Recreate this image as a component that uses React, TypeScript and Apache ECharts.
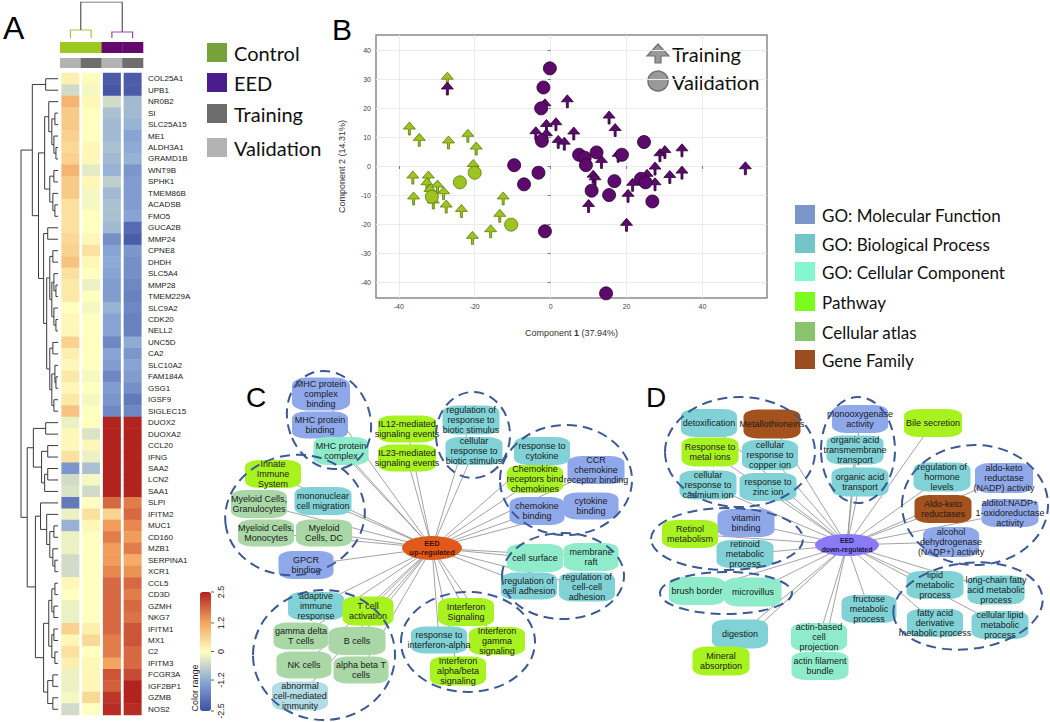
import React, { useEffect, useRef } from 'react';
import * as echarts from 'echarts';

// ---------------- Panel A: heatmap data ----------------
const GENES = [
  'COL25A1', 'UPB1', 'NR0B2', 'SI', 'SLC25A15', 'ME1', 'ALDH3A1', 'GRAMD1B', 'WNT9B', 'SPHK1',
  'TMEM86B', 'ACADSB', 'FMO5', 'GUCA2B', 'MMP24', 'CPNE8', 'DHDH', 'SLC5A4', 'MMP28', 'TMEM229A',
  'SLC9A2', 'CDK20', 'NELL2', 'UNC5D', 'CA2', 'SLC10A2', 'FAM184A', 'GSG1', 'IGSF9', 'SIGLEC15',
  'DUOX2', 'DUOXA2', 'CCL20', 'IFNG', 'SAA2', 'LCN2', 'SAA1', 'SLPI', 'IFITM2', 'MUC1',
  'CD160', 'MZB1', 'SERPINA1', 'XCR1', 'CCL5', 'CD3D', 'GZMH', 'NKG7', 'IFITM1', 'MX1',
  'C2', 'IFITM3', 'FCGR3A', 'IGF2BP1', 'GZMB', 'NOS2',
];
const CTRL_VALIDATION = [
  0.2, -0.5, 1.0, 0.7, 0.7, 0.6, 0.5, 0.6, 1.0, 0.7, 0.7, 0.4, 0.4, 0.4, 0.5, 0.6, 0.8, 0.4, 0.3, 0.3,
  0.0, 0.1, 0.1, 0.6, 0.2, 0.1, 0.3, 0.1, 0.3, 0.8,
  -0.2, 0.1, 0.1, 0.4, -1.5, -0.5, -0.4, -1.9, -0.2, -1.1, -0.2, -0.2, -0.5, -0.5, 0.1, 0.0, -0.2, -0.2,
  0.6, 0.1, 0.4, 0.2, -0.2, -0.2, -0.1, -0.5,
];
const CTRL_TRAINING = [
  0.05, -0.1, 0.1, 0, 0, 0, 0.1, 0.1, -0.3, 0.1, -0.1, -0.1, 0, 0, 0.1, 0.4, 0.1, 0, -0.2, 0,
  -0.1, 0, 0, 0, 0, 0, -0.1, 0, -0.1, 0,
  0, -0.4, 0.1, -0.2, -0.9, -0.1, -0.5, 0, 0.4, 0.1, 0, 0, 0, 0, 0, 0, 0, 0, 0.2, 0.5, 0, 0.1,
  0.1, 0.1, 0.5, 0,
];
const EED_VALIDATION = [
  -2.3, -2.4, -0.5, -0.9, -1.0, -1.0, -0.9, -1.0, -1.1, -0.7, -1.0, -0.9, -0.9, -1.0, -1.6, -1.3, -1.2,
  -1.3, -1.4, -1.4, -1.1, -1.3, -1.3, -1.7, -1.3, -1.4, -1.7, -1.4, -1.5, -1.7,
  2.5, 2.5, 2.5, 2.5, 2.5, 2.5, 2.5, 1.8, 0.6, 1.3, 1.6, 1.3, 1.3, 1.5, 1.8, 1.8, 1.8, 1.8, 1.8, 1.6,
  1.6, 1.2, 2.0, 1.9, 2.3, 2.4,
];
const EED_TRAINING = [
  -2.3, -2.3, -1.0, -1.0, -1.1, -1.3, -1.2, -1.1, -1.5, -1.4, -1.4, -1.4, -1.3, -2.1, -2.3, -1.5, -1.6,
  -1.6, -1.7, -1.8, -1.7, -1.8, -1.8, -1.2, -1.5, -1.3, -1.4, -1.6, -1.9, -1.7,
  2.5, 2.5, 2.5, 2.5, 2.5, 2.5, 2.5, 1.6, 1.8, 1.5, 1.3, 1.6, 1.1, 1.4, 1.8, 1.6, 1.8, 1.7, 2.0, 2.0,
  1.8, 1.8, 2.1, 2.5, 2.5, 2.4,
];
const HEAT_COLUMNS = [CTRL_VALIDATION, CTRL_TRAINING, EED_VALIDATION, EED_TRAINING];
const COLUMN_GROUP = ['Control', 'Control', 'EED', 'EED'];
const COLUMN_SET = ['Validation', 'Training', 'Validation', 'Training'];
const COLOR_TICKS = [2.5, 1.2, 0, -1.2, -2.5];
const COLOR_TICK_LABELS = ['2.5', '1.2', '0', '-1.2', '-2.5'];

// dendrograms: [height, left, right], leaves are row / column indices
type Tree = number | [number, Tree, Tree];
const ROW_TREE: Tree = [36,
  [25, [12, 0, 1],
    [19,
      [13, [9, 2, [6, [3, 3, 4], [4, 5, [2, 6, 7]]]], [8, [4, 8, 9], [5, 10, [3, 11, 12]]]],
      [14, [10, 13, 14],
        [11, [8, [5, 15, 16], [6, [4, 17, [2, 18, 19]], [4, 20, [2, 21, 22]]]],
          [8, [5, 23, 24], [6, [3, 25, [2, 26, 27]], [4, 28, 29]]]]]]],
  [30, [24, [12, 30, 31], [16, [10, 32, 33], [13, [10, 34, 35], 36]]],
    [22, [17, 37, [11, 38, [8, [4, 39, 40], [5, 41, [3, 42, 43]]]]],
      [14, [9, [6, [3, 44, 45], [4, 46, 47]], [6, [4, 48, 49], [3, 50, 51]]], [10, [5, 52, 53], [5, 54, 55]]]]],
];
const COL_TREE: Tree = [36, [8, 0, 1], [6, 2, 3]];

// ---------------- Panel B: PLS-DA scores ----------------
const CTRL_TRAIN_PTS = [
  [-27.2, 31.0], [-37.2, 13.8], [-34.6, 9.9], [-26.9, 9.0], [-21.8, 11.3], [-19.6, 6.9], [-20.4, 0.9],
  [-36.3, -3.1], [-32.2, -3.1], [-32.6, -5.4], [-29.8, -6.2], [-31.8, -7.7], [-28.2, -8.5], [-36.1, -10.3],
  [-30.9, -11.7], [-27.5, -13.1], [-23.5, -14.6], [-12.5, -10.3], [-13.4, -16.3], [-15.8, -21.6], [-20.6, -23.9],
];
const CTRL_VAL_PTS = [[-23.9, -5.6], [-20.0, -2.3], [-31.3, -10.6], [-10.4, -20.2]];
const EED_TRAIN_PTS = [
  [-27.2, 27.6], [-1.5, 21.8], [4.4, 23.2], [-1.1, 14.7], [1.4, 15.3], [-3.9, 12.2], [-1.1, 11.5],
  [2.0, 9.2], [3.6, 8.6], [6.1, 12.1], [15.4, 17.6], [17.0, 13.3], [13.4, 2.3], [11.2, -2.8], [11.7, -3.7],
  [10.0, -12.9], [20.4, -9.4], [20.0, -19.4], [21.6, -5.6], [25.4, -2.5], [27.5, 0.0], [27.5, -5.4],
  [28.8, 4.6], [30.1, 5.7], [31.4, -2.9], [34.6, 6.3], [34.6, -1.4], [51.3, 0.1], [17.8, 4.4],
];
const EED_VAL_PTS = [
  [-0.2, 33.7], [-1.9, 27.1], [-2.5, 19.9], [-2.3, 8.7], [-9.6, 0.3], [-3.2, -2.3], [-7.0, -6.3],
  [-1.5, -22.5], [7.5, 3.9], [9.0, 2.9], [9.3, 0.3], [12.1, 4.7], [18.8, 3.9], [24.6, 8.3], [16.8, -5.2],
  [10.8, -8.5], [15.4, -10.0], [23.8, -4.4], [25.0, -5.6], [26.8, -12.2], [14.6, -43.9],
];
const X_TICKS = [-40, -20, 0, 20, 40];
const Y_TICKS = [-40, -30, -20, -10, 0, 10, 20, 30, 40];

// ---------------- Panels C / D: enrichment networks ----------------
const CAT_LEGEND = [
  ['MF', 'GO: Molecular Function'], ['BP', 'GO: Biological Process'], ['CC', 'GO: Cellular Component'],
  ['PW', 'Pathway'], ['CA', 'Cellular atlas'], ['GF', 'Gene Family'],
];
const NET_C_NODES = [
  ['MHC protein\ncomplex\nbinding', 'MF'], ['MHC protein\nbinding', 'MF'], ['MHC protein\ncomplex', 'CC'],
  ['IL12-mediated\nsignaling events', 'PW'], ['IL23-mediated\nsignaling events', 'PW'],
  ['regulation of\nresponse to\nbiotic stimulus', 'BP'], ['cellular\nresponse to\nbiotic stimulus', 'BP'],
  ['response to\ncytokine', 'BP'], ['CCR\nchemokine\nreceptor binding', 'MF'],
  ['Chemokine\nreceptors bind\nchemokines', 'PW'], ['chemokine\nbinding', 'MF'], ['cytokine\nbinding', 'MF'],
  ['Innate\nImmune\nSystem', 'PW'], ['Myeloid Cells,\nGranulocytes', 'CA'], ['mononuclear\ncell migration', 'BP'],
  ['Myeloid Cells,\nMonocytes', 'CA'], ['Myeloid\nCells, DC', 'CA'], ['GPCR\nbinding', 'MF'],
  ['adaptive\nimmune\nresponse', 'BP'], ['T cell\nactivation', 'PW'], ['gamma delta\nT cells', 'CA'],
  ['B cells', 'CA'], ['NK cells', 'CA'], ['alpha beta T\ncells', 'CA'], ['abnormal\ncell-mediated\nimmunity', 'OT'],
  ['cell surface', 'CC'], ['membrane\nraft', 'CC'], ['regulation of\ncell adhesion', 'BP'],
  ['regulation of\ncell-cell\nadhesion', 'BP'], ['Interferon\nSignaling', 'PW'], ['response to\ninterferon-alpha', 'BP'],
  ['Interferon\ngamma\nsignaling', 'PW'], ['Interferon\nalpha/beta\nsignaling', 'PW'],
];
// node layout of panel C: centre x, centre y, box width, box height (page pixels)
const NET_C_LAYOUT = [
  [321, 394, 58, 33], [320, 425, 56, 27], [341, 451, 55, 28], [407, 429, 58, 27], [407, 458, 58, 27],
  [471, 420, 57, 29], [474, 451, 57, 28], [542, 451, 56, 28], [596, 470, 57, 28], [535, 479, 56, 28],
  [537, 511, 55, 28], [591, 506, 55, 27], [273, 474, 56, 28], [259, 504, 56, 28], [323, 501, 57, 28],
  [266, 533, 56, 27], [324, 533, 56, 27], [306, 565, 55, 28], [316, 606, 56, 28], [368, 611, 51, 29],
  [301, 636, 55, 27], [357, 641, 57, 28], [304, 665, 55, 27], [361, 670, 55, 27], [300, 696, 56, 29],
  [535, 558, 56, 28], [591, 557, 55, 28], [529, 586, 56, 27], [587, 587, 56, 29], [466, 612, 56, 28],
  [439, 640, 56, 27], [497, 641, 56, 28], [458, 671, 56, 29],
];
const HUB_C = 'EED\nup-regulated';
const HUB_C_LAYOUT = [432, 548, 60, 24];

const NET_D_NODES = [
  ['detoxification', 'BP'], ['Metallothioneins', 'GF'], ['Response to\nmetal ions', 'PW'],
  ['cellular\nresponse to\ncopper ion', 'BP'], ['cellular\nresponse to\ncadmium ion', 'BP'],
  ['response to\nzinc ion', 'BP'], ['monooxygenase\nactivity', 'MF'], ['organic acid\ntransmembrane\ntransport', 'BP'],
  ['organic acid\ntransport', 'BP'], ['Bile secretion', 'PW'], ['regulation of\nhormone\nlevels', 'BP'],
  ['aldo-keto\nreductase\n(NADP) activity', 'MF'], ['Aldo-keto\nreductases', 'GF'],
  ['alditol:NADP+\n1-oxidoreductase\nactivity', 'MF'], ['alcohol\ndehydrogenase\n(NADP+) activity', 'MF'],
  ['vitamin\nbinding', 'MF'], ['Retinol\nmetabolism', 'PW'], ['retinoid\nmetabolic\nprocess', 'BP'],
  ['brush border', 'CC'], ['microvillus', 'CC'], ['digestion', 'BP'], ['Mineral\nabsorption', 'PW'],
  ['actin-based\ncell\nprojection', 'CC'], ['actin filament\nbundle', 'CC'], ['fructose\nmetabolic\nprocess', 'BP'],
  ['lipid\nmetabolic\nprocess', 'BP'], ['long-chain fatty\nacid metabolic\nprocess', 'BP'],
  ['fatty acid\nderivative\nmetabolic process', 'BP'], ['cellular lipid\nmetabolic\nprocess', 'BP'],
];
const NET_D_LAYOUT = [
  [709, 423, 56, 28], [772, 424, 57, 29], [710, 452, 57, 29], [770, 455, 56, 30], [708, 485, 57, 29],
  [768, 487, 57, 28], [860, 419, 56, 28], [855, 450, 57, 29], [860, 482, 57, 29], [933, 423, 58, 28],
  [942, 477, 57, 29], [1004, 478, 58, 30], [943, 509, 57, 28], [1010, 513, 57, 28], [951, 542, 56, 30],
  [746, 523, 57, 28], [690, 534, 56, 28], [745, 554, 57, 28], [697, 591, 56, 28], [753, 592, 57, 29],
  [740, 634, 56, 29], [721, 661, 57, 29], [819, 637, 56, 28], [820, 666, 57, 28], [869, 609, 55, 28],
  [935, 585, 57, 28], [996, 590, 57, 29], [935, 623, 56, 28], [1000, 625, 57, 28],
];
const HUB_D = 'EED\ndown-regulated';
const HUB_D_LAYOUT = [847, 545, 64, 22];

// dashed cluster outlines: cx, cy, rx, ry, rotation
const CLUSTERS = [
  [329, 420, 41, 50, 0.35], [473, 435, 37, 43, 0], [566, 480, 66, 55, 0], [295, 515, 70, 60, 0.15],
  [324, 655, 71, 65, 0], [468, 642, 67, 50, 0], [563, 576, 61, 43, 0],
  [740, 452, 75, 55, 0], [858, 450, 37, 53, 0], [727, 539, 76, 31, 0], [726, 593, 66, 21, 0],
  [975, 505, 73, 60, 0], [968, 606, 75, 43, 0.12],
];

// ---------------- styles ----------------
const HEAT_COLORS = ['#3f4fa1', '#8aa8d6', '#ffffbf', '#f3a15c', '#b2221f'];
const GROUP_BAR = { Control: '#9cc920', EED: '#650a6d' };
const SET_BAR = { Validation: '#b3b3b3', Training: '#6e6e6e' };
const LEGEND_A = [['Control', '#76a23c'], ['EED', '#4b1c8c'], ['Training', '#6c6c6c'], ['Validation', '#b3b3b3']];
const CAT_NODE = { MF: '#8fa8ea', BP: '#80d2d6', CC: '#8eeccb', PW: '#a8f220', CA: '#a9d7a6', GF: '#a3521d', OT: '#b3dde6' };
const CAT_KEY = { MF: '#7b96c8', BP: '#72c6c9', CC: '#85f7d0', PW: '#7cfc1c', CA: '#88c46a', GF: '#9a4d1e' };
const ARROW = 'path://M6,0 L12,7 L7,7 L7,13 L5,13 L5,7 L0,7 Z';
const ELLIPSE = 'path://M0,50 A50,50 0 1 0 100,50 A50,50 0 1 0 0,50 Z';

function layoutTree(node: Tree, segs: any[], tag: number): { pos: number; h: number } {
  if (typeof node === 'number') return { pos: node, h: 0 };
  const [h, l, r] = node;
  const root = tag < 0;
  const L = layoutTree(l, segs, root ? 0 : tag);
  const R = layoutTree(r, segs, root ? 1 : tag);
  segs.push({ pts: [[L.pos, L.h], [L.pos, h], [R.pos, h], [R.pos, R.h]], tag });
  return { pos: (L.pos + R.pos) / 2, h };
}

function buildNet(nodes: any[], layout: number[][], hub: string, hubLayout: number[], hubColor: string, hubText: string, hubFont: number) {
  const data: any[] = nodes.map((n, i) => ({
    name: n[0],
    value: [layout[i][0], layout[i][1]],
    symbol: 'roundRect',
    symbolSize: [layout[i][2], layout[i][3]],
    itemStyle: { color: CAT_NODE[n[1]] },
  }));
  data.push({
    name: hub,
    value: [hubLayout[0], hubLayout[1]],
    symbol: ELLIPSE,
    symbolSize: [hubLayout[2], hubLayout[3]],
    itemStyle: { color: hubColor },
    label: { fontSize: hubFont, fontWeight: 'bold', lineHeight: 9, color: hubText },
  });
  const links = nodes.map((n) => ({ source: hub, target: n[0] }));
  return {
    type: 'graph', coordinateSystem: 'cartesian2d', xAxisIndex: 6, yAxisIndex: 6, layout: 'none',
    silent: true, data, links, z: 3,
    label: { show: true, position: 'inside', fontSize: 9, lineHeight: 10, color: '#1a1a1a', fontFamily: 'Liberation Sans' },
    lineStyle: { color: '#8c8c8c', width: 0.8, opacity: 1, curveness: 0 },
    emphasis: { disabled: true },
  };
}

function buildOption() {
  const rowSegs: any[] = [];
  layoutTree(ROW_TREE, rowSegs, -1);
  const colSegs: any[] = [];
  layoutTree(COL_TREE, colSegs, -1);
  const colTagColor = { '-1': '#555555', '0': '#a3c940', '1': '#9b4aa3' };

  const heatData: any[] = [];
  HEAT_COLUMNS.forEach((col, c) => col.forEach((v, r) => heatData.push([c, r, v])));

  const scatterBase = (name: string, pts: number[][], fill: string, stroke: string, train: boolean) => ({
    name, type: 'scatter', xAxisIndex: 5, yAxisIndex: 5, data: pts, silent: true,
    symbol: train ? ARROW : 'circle', symbolSize: train ? [12, 13] : 13,
    symbolOffset: train ? [0, 2.5] : [0, 0],
    itemStyle: { color: fill, borderColor: stroke, borderWidth: 0.8, opacity: 1 },
  });

  const graphic: any[] = [];
  const letter = (t: string, x: number, y: number, s: number) =>
    graphic.push({ type: 'text', x, y, style: { text: t, fontSize: s, fontFamily: 'Liberation Sans', fill: '#000', verticalAlign: 'middle' } });
  letter('A', 3, 28, 32);
  letter('B', 332, 29, 30);
  letter('C', 246, 397, 28);
  letter('D', 646, 397, 28);

  const legendAY = [43, 73, 104, 138];
  LEGEND_A.forEach(([t, c], i) => {
    graphic.push({ type: 'rect', shape: { x: 207, y: legendAY[i], width: 20, height: 19 }, style: { fill: c } });
    graphic.push({ type: 'text', x: 234, y: legendAY[i] + 10, style: { text: t, fontSize: 20, fontFamily: 'Lato', fill: '#111', verticalAlign: 'middle' } });
  });
  const legendGY = [205, 234, 262, 292, 322, 350];
  CAT_LEGEND.forEach(([k, t], i) => {
    graphic.push({ type: 'rect', shape: { x: 795, y: legendGY[i], width: 20, height: 19 }, style: { fill: CAT_KEY[k] } });
    graphic.push({ type: 'text', x: 822, y: legendGY[i] + 10, style: { text: t, fontSize: 17, fontFamily: 'Lato', fill: '#111', verticalAlign: 'middle' } });
  });
  // panel B legend
  graphic.push({ type: 'polygon', shape: { points: [[658, 44], [669, 56], [661, 56], [661, 63], [655, 63], [655, 56], [647, 56]] }, style: { fill: '#9a9a9a', stroke: '#707070', lineWidth: 1.2 } });
  graphic.push({ type: 'circle', shape: { cx: 658, cy: 81, r: 10 }, style: { fill: '#9a9a9a', stroke: '#707070', lineWidth: 1.5 } });
  graphic.push({ type: 'text', x: 672, y: 54, style: { text: 'Training', fontSize: 20, fontFamily: 'Lato', fill: '#111', verticalAlign: 'middle' } });
  graphic.push({ type: 'text', x: 672, y: 82, style: { text: 'Validation', fontSize: 20, fontFamily: 'Lato', fill: '#111', verticalAlign: 'middle' } });
  // colour bar ticks
  const barTop = 592, barH = 119;
  COLOR_TICKS.forEach((v, i) => {
    const y = barTop + ((2.5 - v) / 5) * barH;
    graphic.push({ type: 'line', shape: { x1: 211, y1: y, x2: 214, y2: y }, style: { stroke: '#333', lineWidth: 0.8 } });
    graphic.push({ type: 'text', x: 221, y, rotation: Math.PI / 2, style: { text: COLOR_TICK_LABELS[i], fontSize: 9, fontFamily: 'Liberation Sans', fill: '#222', align: 'center', verticalAlign: 'middle' } });
  });
  graphic.push({ type: 'text', x: 195, y: 688, rotation: Math.PI / 2, style: { text: 'Color range', fontSize: 9, fontFamily: 'Liberation Sans', fill: '#222', align: 'center', verticalAlign: 'middle' } });
  // dashed cluster outlines
  CLUSTERS.forEach(([cx, cy, rx, ry, rot]) => {
    graphic.push({ type: 'ellipse', x: cx, y: cy, rotation: rot, z: 100, shape: { cx: 0, cy: 0, rx, ry }, style: { fill: 'none', stroke: '#3c5996', lineWidth: 2, lineDash: [10, 6] } });
  });

  return {
    animation: false,
    backgroundColor: '#ffffff',
    textStyle: { fontFamily: 'Liberation Sans' },
    grid: [
      { left: 60, top: 73, width: 83, height: 642 },
      { left: 20, top: 73, width: 38, height: 642 },
      { left: 60, top: 2, width: 83, height: 36 },
      { left: 60, top: 42, width: 83, height: 11 },
      { left: 60, top: 58, width: 83, height: 10 },
      { left: 376, top: 35, width: 391, height: 263, show: true, borderColor: '#8a8a8a', borderWidth: 1.5 },
      { left: 0, top: 0, width: 1050, height: 722 },
    ],
    xAxis: [
      { gridIndex: 0, type: 'category', data: ['c1', 'c2', 'c3', 'c4'], show: false },
      { gridIndex: 1, type: 'value', min: 0, max: 37, inverse: true, show: false },
      { gridIndex: 2, type: 'value', min: -0.5, max: 3.5, show: false },
      { gridIndex: 3, type: 'category', data: ['c1', 'c2', 'c3', 'c4'], show: false },
      { gridIndex: 4, type: 'category', data: ['c1', 'c2', 'c3', 'c4'], show: false },
      {
        gridIndex: 5, type: 'value', min: -46, max: 57, minInterval: 20, maxInterval: 20,
        name: 'Component {b|1} (37.94%)', nameLocation: 'middle', nameGap: 30,
        nameTextStyle: { fontSize: 9, color: '#333', rich: { b: { fontSize: 9, fontWeight: 'bold', color: '#333' } } },
        axisLine: { show: false },
        axisTick: { show: true, length: 3, lineStyle: { color: '#777' }, customValues: X_TICKS },
        axisLabel: { fontSize: 7, color: '#444', margin: 5, customValues: X_TICKS },
        splitLine: { show: true, lineStyle: { color: '#ebebeb', width: 1 } },
      },
      { gridIndex: 6, type: 'value', min: 0, max: 1050, show: false },
    ],
    yAxis: [
      {
        gridIndex: 0, type: 'category', data: GENES, inverse: true, position: 'right',
        axisLine: { show: false }, axisTick: { show: false },
        axisLabel: { interval: 0, fontSize: 8, color: '#1a1a1a', margin: 5, fontFamily: 'Liberation Sans' },
      },
      { gridIndex: 1, type: 'value', min: -0.5, max: 55.5, inverse: true, show: false },
      { gridIndex: 2, type: 'value', min: 0, max: 36, show: false },
      { gridIndex: 3, type: 'category', data: ['g'], show: false },
      { gridIndex: 4, type: 'category', data: ['s'], show: false },
      {
        gridIndex: 5, type: 'value', min: -45.5, max: 45.2, minInterval: 10, maxInterval: 10,
        name: 'Component 2 (14.31%)', nameLocation: 'middle', nameGap: 30, nameRotate: 90,
        nameTextStyle: { fontSize: 9, color: '#333' },
        axisLine: { show: false },
        axisTick: { show: true, length: 3, lineStyle: { color: '#777' }, customValues: Y_TICKS },
        axisLabel: { fontSize: 7, color: '#444', margin: 5, customValues: Y_TICKS },
        splitLine: { show: true, lineStyle: { color: '#ebebeb', width: 1 } },
      },
      { gridIndex: 6, type: 'value', min: 0, max: 722, inverse: true, show: false },
    ],
    visualMap: {
      type: 'continuous', min: -2.5, max: 2.5, dimension: 2, seriesIndex: 0, orient: 'vertical',
      left: 200, top: barTop, itemWidth: 11, itemHeight: barH, calculable: false, padding: 0,
      hoverLink: false, inRange: { color: HEAT_COLORS },
    },
    series: [
      {
        type: 'custom', xAxisIndex: 0, yAxisIndex: 0, data: heatData, encode: { x: 0, y: 1 }, silent: true,
        renderItem: (params: any, api: any) => {
          const p = api.coord([api.value(0), api.value(1)]);
          const s = api.size([1, 1]);
          const gap = 2.8;
          return {
            type: 'rect',
            shape: { x: p[0] - s[0] / 2 + gap / 2, y: p[1] - s[1] / 2 - 0.25, width: s[0] - gap, height: s[1] + 0.5 },
            style: { fill: api.visual('color') },
          };
        },
      },
      {
        type: 'lines', coordinateSystem: 'cartesian2d', xAxisIndex: 1, yAxisIndex: 1, polyline: true, silent: true,
        data: rowSegs.map((s) => ({ coords: s.pts.map((p: number[]) => [p[1], p[0]]) })),
        lineStyle: { color: '#3a3a3a', width: 1, opacity: 1 },
      },
      {
        type: 'lines', coordinateSystem: 'cartesian2d', xAxisIndex: 2, yAxisIndex: 2, polyline: true, silent: true,
        data: colSegs.map((s) => ({ coords: s.pts, lineStyle: { color: colTagColor[String(s.tag)] } })),
        lineStyle: { width: 1.2, opacity: 1 },
      },
      {
        type: 'custom', xAxisIndex: 3, yAxisIndex: 3, silent: true, data: COLUMN_GROUP.map((g, i) => [i, 0]),
        renderItem: (params: any, api: any) => {
          const p = api.coord([api.value(0), 0]);
          const s = api.size([1, 1]);
          return { type: 'rect', shape: { x: p[0] - s[0] / 2, y: p[1] - s[1] / 2, width: s[0] + 0.3, height: s[1] }, style: { fill: GROUP_BAR[COLUMN_GROUP[params.dataIndex]] } };
        },
      },
      {
        type: 'custom', xAxisIndex: 4, yAxisIndex: 4, silent: true, data: COLUMN_SET.map((g, i) => [i, 0]),
        renderItem: (params: any, api: any) => {
          const p = api.coord([api.value(0), 0]);
          const s = api.size([1, 1]);
          return { type: 'rect', shape: { x: p[0] - s[0] / 2, y: p[1] - s[1] / 2, width: s[0] + 0.3, height: s[1] }, style: { fill: SET_BAR[COLUMN_SET[params.dataIndex]] } };
        },
      },
      scatterBase('Control training', CTRL_TRAIN_PTS, '#9dc41f', '#5a7a0c', true),
      scatterBase('EED training', EED_TRAIN_PTS, '#5c0a6c', '#2b0035', true),
      scatterBase('Control validation', CTRL_VAL_PTS, '#9dc41f', '#5a7a0c', false),
      scatterBase('EED validation', EED_VAL_PTS, '#5c0a6c', '#2b0035', false),
      buildNet(NET_C_NODES, NET_C_LAYOUT, HUB_C, HUB_C_LAYOUT, '#e0581a', '#3a1400', 7.5),
      buildNet(NET_D_NODES, NET_D_LAYOUT, HUB_D, HUB_D_LAYOUT, '#8a7af5', '#16164a', 6.8),
    ],
    graphic,
  };
}

export default function App() {
  const ref = useRef<HTMLDivElement>(null);
  useEffect(() => {
    const chart = echarts.init(ref.current as HTMLDivElement, null, { renderer: 'svg' });
    chart.setOption(buildOption() as any);
    return () => chart.dispose();
  }, []);
  return (
    <div
      ref={ref}
      style={{ position: 'absolute', left: 0, top: 0, width: 1050, height: 722, background: '#ffffff' }}
    />
  );
}
